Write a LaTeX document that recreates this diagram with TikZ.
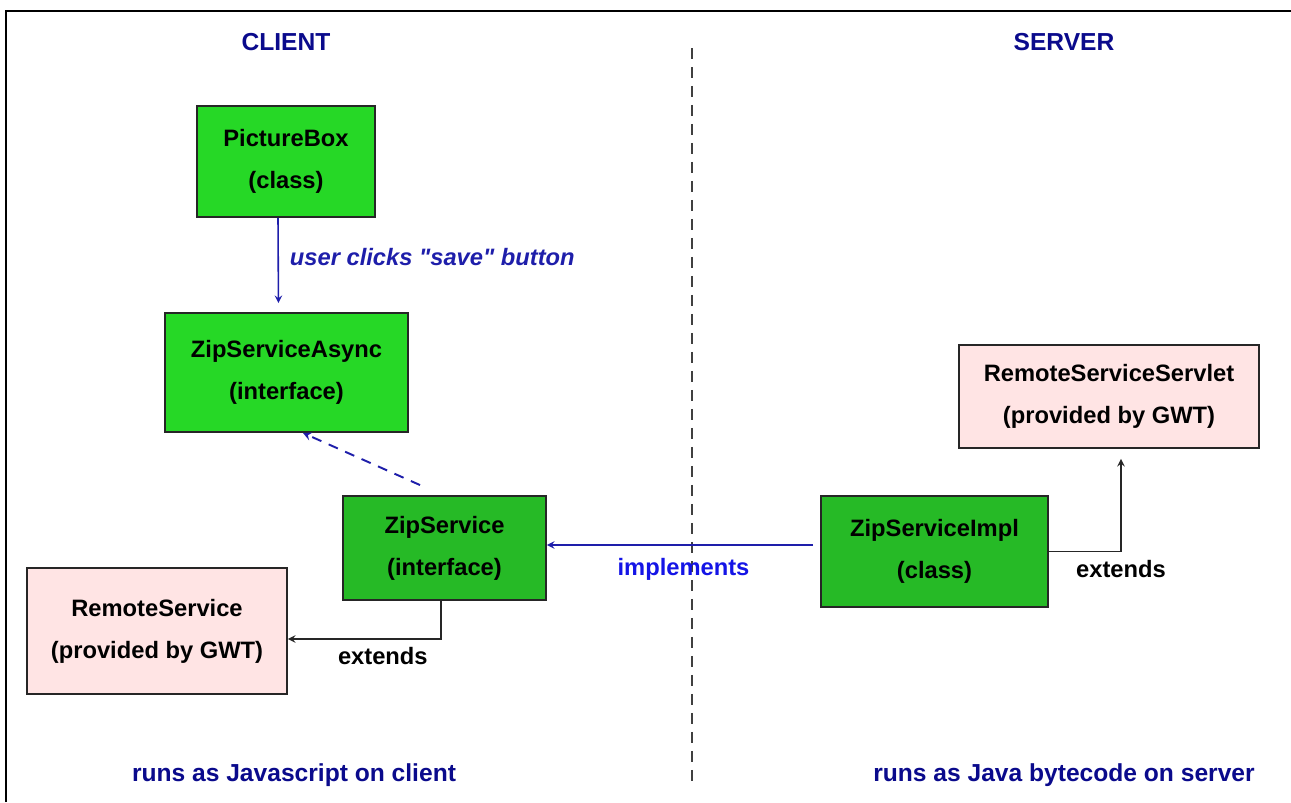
\documentclass[tikz,border=0pt]{standalone}
\usepackage{fontspec}
\setmainfont{Liberation Sans}
\usepackage{tikz}

\definecolor{classgreen}{RGB}{38,216,38}
\definecolor{darkgreen}{RGB}{38,186,38}
\definecolor{gwtpink}{RGB}{255,228,228}
\definecolor{navy}{RGB}{10,10,140}
\definecolor{callblue}{RGB}{30,30,170}
\definecolor{implblue}{RGB}{20,20,230}

\begin{document}
\begin{tikzpicture}[
            x=0.02cm, y=-0.02cm,          % 1 unit = 1 px, y downwards
            >=stealth,
            box/.style={
                draw=black!85,
                line width=1.1pt,
                align=center,
                inner sep=0pt,
                font=\bfseries\fontsize{13.5}{24}\selectfont
            },
            title/.style={text=navy, font=\bfseries\fontsize{14}{16}\selectfont},
            call/.style={->, line width=0.9pt, draw=callblue},
            ext/.style={->, line width=0.9pt, draw=black!85},
            note/.style={font=\bfseries\fontsize{13.5}{16}\selectfont}
        ]
            \useasboundingbox (0,0) rectangle (1291,802);

            % frame and client/server split
            \draw[line width=1.1pt] (6,802) -- (6,11) -- (1291,11);
            \draw[line width=1pt, black!75, dash pattern=on 0.22cm off 0.16cm] (692,48) -- (692,785);

            % headings
            \node[title] (client) at (286,42) {CLIENT};
            \node[title] (server) at (1064,42) {SERVER};
            \node[title] (jsnote) at (294,775) {runs as Javascript on client};
            \node[title] (javanote) at (1064,775) {runs as Java bytecode on server};

            % boxes
            \node[box, fill=classgreen, minimum width=3.56cm, minimum height=2.22cm] (pbox) at (286,161.5) {PictureBox\\(class)};
            \node[box, fill=classgreen, minimum width=4.86cm, minimum height=2.38cm] (async) at (286.5,372.5) {ZipServiceAsync\\(interface)};
            \node[box, fill=darkgreen, minimum width=4.06cm, minimum height=2.08cm] (zip) at (444.5,548) {ZipService\\(interface)};
            \node[box, fill=gwtpink, minimum width=5.2cm, minimum height=2.52cm] (remote) at (157,631) {RemoteService\\(provided by GWT)};
            \node[box, fill=darkgreen, minimum width=4.54cm, minimum height=2.22cm] (impl) at (934.5,551.5) {ZipServiceImpl\\(class)};
            \node[box, fill=gwtpink, minimum width=6cm, minimum height=2.06cm] (servlet) at (1109,396.5) {RemoteServiceServlet\\(provided by GWT)};

            % edges
            \draw[call, shorten >=0.18cm] ([xshift=-0.16cm]pbox.south) -- ([xshift=-0.16cm]async.north)
                node[midway, right, xshift=0.1cm, yshift=0.16cm, text=callblue, font=\bfseries\itshape\fontsize{13.5}{16}\selectfont] {user clicks \textquotedbl save\textquotedbl\ button};
            \draw[call, dashed, dash pattern=on 0.2cm off 0.16cm, line width=1.1pt]
                ([xshift=-0.49cm, yshift=0.2cm]zip.north) -- ([xshift=0.33cm]async.south);
            \draw[call, shorten <=0.14cm] ([yshift=0.13cm]impl.west) -- ([yshift=0.13cm]impl.west -| zip.east)
                node[midway, below, yshift=-0.13cm, text=implblue, note] {implements};
            \draw[ext] ([xshift=-0.07cm]zip.south) |- ([yshift=-0.16cm]remote.east)
                node[pos=0.69, below, yshift=-0.04cm, note] {extends};
            \draw[ext, shorten >=0.2cm] (impl.east) -| ([xshift=0.24cm]servlet.south)
                node[pos=0.5, below, yshift=-0.04cm, note] {extends};
        \end{tikzpicture}
\end{document}
